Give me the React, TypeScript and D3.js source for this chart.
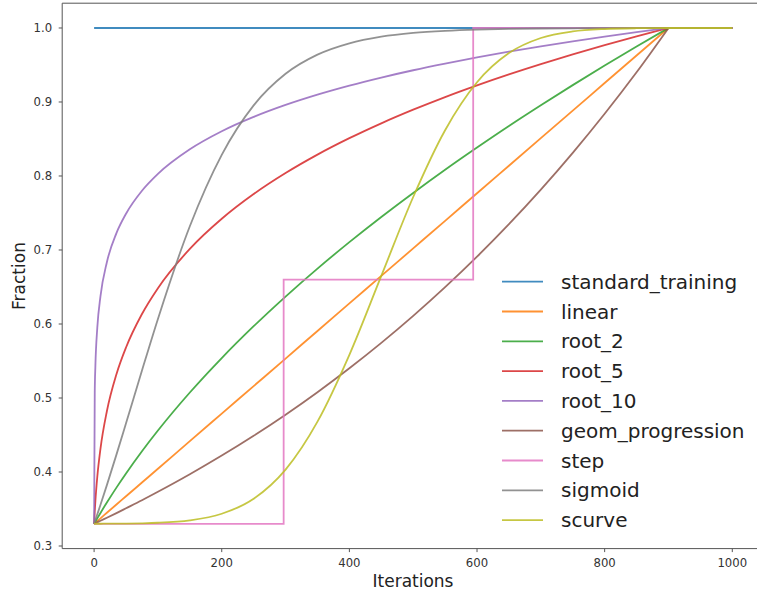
import React, { useEffect } from 'react';
import * as d3 from 'd3';

const iterations = [0, 1, 2, 5, 10, 20, 35, 50, 75, 100, 150, 200, 250, 300, 350, 400, 450, 500, 550, 600, 650, 700, 750, 800, 850, 900, 1000];

const linear = [0.33, 0.3307, 0.3315, 0.3337, 0.3374, 0.3449, 0.3561, 0.3672, 0.3858, 0.4044, 0.4417, 0.4789, 0.5161, 0.5533, 0.5906, 0.6278, 0.665, 0.7022, 0.7394, 0.7767, 0.8139, 0.8511, 0.8883, 0.9256, 0.9628, 1, 1];
const root2 = [0.33, 0.3315, 0.333, 0.3374, 0.3447, 0.3587, 0.3789, 0.398, 0.428, 0.456, 0.5074, 0.554, 0.597, 0.6371, 0.6749, 0.7106, 0.7446, 0.7771, 0.8084, 0.8384, 0.8675, 0.8955, 0.9228, 0.9492, 0.9749, 1, 1];
const root5 = [0.33, 0.3469, 0.361, 0.3936, 0.4316, 0.4821, 0.5321, 0.5683, 0.6135, 0.6484, 0.7015, 0.7422, 0.7756, 0.804, 0.8289, 0.8511, 0.8712, 0.8896, 0.9067, 0.9225, 0.9373, 0.9512, 0.9643, 0.9768, 0.9887, 1, 1];
const root10 = [0.33, 0.5072, 0.5432, 0.5951, 0.6377, 0.6835, 0.7228, 0.749, 0.78, 0.8028, 0.836, 0.8604, 0.8798, 0.896, 0.9099, 0.9221, 0.933, 0.9429, 0.9519, 0.9603, 0.968, 0.9752, 0.9819, 0.9883, 0.9943, 1, 1];
const geomProgression = [0.33, 0.3304, 0.3308, 0.332, 0.3341, 0.3382, 0.3445, 0.351, 0.3619, 0.3733, 0.397, 0.4222, 0.449, 0.4775, 0.5079, 0.5402, 0.5745, 0.611, 0.6498, 0.691, 0.7349, 0.7816, 0.8313, 0.8841, 0.9402, 1, 1];
const sigmoid = [0.33, 0.3326, 0.3351, 0.3428, 0.3557, 0.3823, 0.4235, 0.4658, 0.5371, 0.6068, 0.7321, 0.8286, 0.8954, 0.9381, 0.964, 0.9793, 0.9882, 0.9933, 0.9962, 0.9979, 0.9988, 0.9993, 0.9996, 0.9998, 0.9999, 1, 1];
const scurve = [0.3301, 0.3301, 0.3301, 0.3301, 0.3301, 0.3302, 0.3302, 0.3303, 0.3307, 0.3314, 0.3347, 0.3436, 0.3639, 0.4033, 0.4681, 0.5584, 0.665, 0.7716, 0.8619, 0.9267, 0.9661, 0.9865, 0.9953, 0.9986, 0.9997, 1, 1];

const standardIterations = [0, 1000];
const standardTraining = [1, 1];

const stepIterations = [0, 297, 594, 1000];
const step = [0.33, 0.66, 1, 1];

// the schedules reach the full data set here and stay flat after
const fullAt = 900;

const xTicks = [0, 200, 400, 600, 800, 1000];
const yTicks = [0.3, 0.4, 0.5, 0.6, 0.7, 0.8, 0.9, 1.0];

const width = 757;
const height = 595;

type Series = { name: string; color: string; xs: number[]; ys: number[]; kind: 'flat' | 'smooth' | 'step' };

const series: Series[] = [
  { name: 'standard_training', color: '#1f77b4', xs: standardIterations, ys: standardTraining, kind: 'flat' },
  { name: 'linear', color: '#ff7f0e', xs: iterations, ys: linear, kind: 'smooth' },
  { name: 'root_2', color: '#2ca02c', xs: iterations, ys: root2, kind: 'smooth' },
  { name: 'root_5', color: '#d62728', xs: iterations, ys: root5, kind: 'smooth' },
  { name: 'root_10', color: '#9467bd', xs: iterations, ys: root10, kind: 'smooth' },
  { name: 'geom_progression', color: '#8c564b', xs: iterations, ys: geomProgression, kind: 'smooth' },
  { name: 'step', color: '#e377c2', xs: stepIterations, ys: step, kind: 'step' },
  { name: 'sigmoid', color: '#7f7f7f', xs: iterations, ys: sigmoid, kind: 'smooth' },
  { name: 'scurve', color: '#bcbd22', xs: iterations, ys: scurve, kind: 'smooth' },
];

const App = () => {
  useEffect(() => {
    document.body.style.margin = '0';
  }, []);

  const x = d3.scaleLinear().domain([-50, 1050]).range([62.2, 764.2]);
  const y = d3.scaleLinear().domain([0.2965, 1.0335]).range([548.6, 3.2]);
  const font = 'DejaVu Sans, sans-serif';
  const left = 62.2;
  const bottom = 548.6;
  const top = 3.2;

  const makePath = (s: Series) => {
    const pts = s.xs.map((v, i) => [v, s.ys[i]] as [number, number]);
    const straight = d3.line<[number, number]>().x(d => x(d[0])).y(d => y(d[1]));
    if (s.kind === 'flat') return straight(pts) || '';
    if (s.kind === 'step') return straight.curve(d3.curveStepAfter)(pts) || '';
    // smooth up to the point where the schedule saturates, straight after it
    const smooth = d3.line<[number, number]>().x(d => x(d[0])).y(d => y(d[1])).curve(d3.curveMonotoneX);
    const rising = pts.filter(p => p[0] <= fullAt);
    const after = pts.filter(p => p[0] >= fullAt);
    return (smooth(rising) || '') + (straight(after) || '');
  };

  return (
    <svg width={width} height={height} style={{ display: 'block', background: '#fff' }} fontFamily={font}>
      {series.map(s => (
        <path key={s.name} d={makePath(s)} fill="none" stroke={s.color} strokeOpacity={0.85} strokeWidth={1.8} />
      ))}

      {/* spines */}
      <line x1={left} x2={width} y1={top} y2={top} stroke="#555" strokeWidth={1} />
      <line x1={left} x2={left} y1={top} y2={bottom} stroke="#555" strokeWidth={1} />
      <line x1={left} x2={width} y1={bottom} y2={bottom} stroke="#555" strokeWidth={1} />

      {xTicks.map(t => (
        <g key={'x' + t} transform={`translate(${x(t)},${bottom})`}>
          <line y1={0} y2={3.5} stroke="#555" />
          <text y={18.5} textAnchor="middle" fontSize={11.7} fill="#333">{t}</text>
        </g>
      ))}
      {yTicks.map(t => (
        <g key={'y' + t} transform={`translate(${left},${y(t)})`}>
          <line x1={0} x2={-3.5} stroke="#555" />
          <text x={-10} dy="0.35em" textAnchor="end" fontSize={11.7} fill="#333">{d3.format('.1f')(t)}</text>
        </g>
      ))}

      <text x={413} y={587} textAnchor="middle" fontSize={17} fill="#222">Iterations</text>
      <text transform={`translate(25,276) rotate(-90)`} textAnchor="middle" fontSize={17} fill="#222">Fraction</text>

      {series.map((s, i) => {
        const ry = 281.7 + i * 29.8;
        return (
          <g key={'leg' + s.name}>
            <line x1={502} x2={543} y1={ry} y2={ry} stroke={s.color} strokeOpacity={0.85} strokeWidth={1.8} />
            <text x={561} y={ry + 7} fontSize={20} fill="#222">{s.name}</text>
          </g>
        );
      })}
    </svg>
  );
};

export default App;
